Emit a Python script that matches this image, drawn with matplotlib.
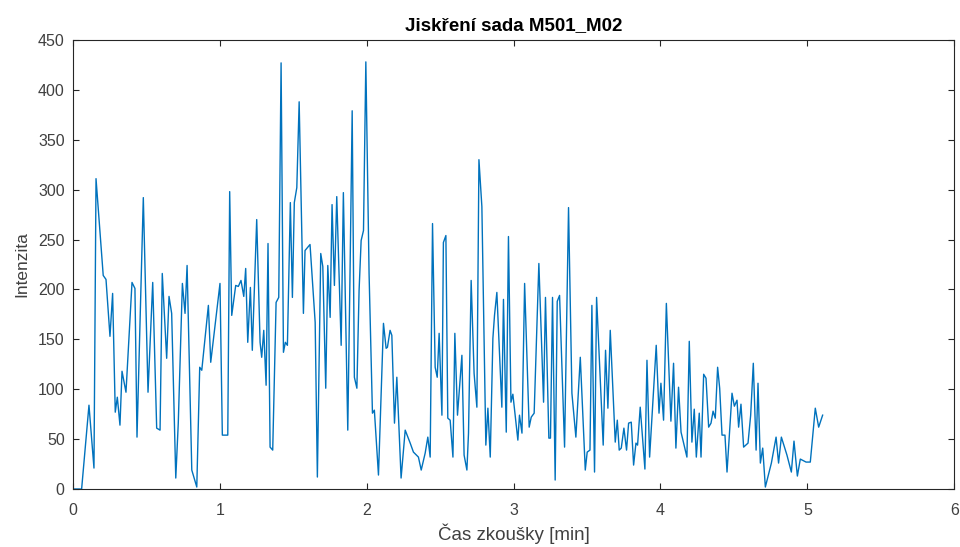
import matplotlib.pyplot as plt

# casy vrcholu krivky [min] a intenzita
cas = [0.0, 0.059, 0.109, 0.143, 0.157, 0.206, 0.225, 0.252, 0.270, 0.288,
       0.302, 0.320, 0.334, 0.361, 0.402, 0.422, 0.436, 0.479, 0.511, 0.543,
       0.570, 0.593, 0.608, 0.638, 0.654, 0.672, 0.700, 0.717, 0.745, 0.763,
       0.777, 0.809, 0.843, 0.863, 0.877, 0.922, 0.938, 1.001, 1.017, 1.054,
       1.067, 1.081, 1.108, 1.126, 1.144, 1.163, 1.176, 1.190, 1.208, 1.221,
       1.251, 1.274, 1.285, 1.299, 1.315, 1.328, 1.342, 1.360, 1.383, 1.401,
       1.417, 1.433, 1.446, 1.460, 1.480, 1.494, 1.507, 1.524, 1.540, 1.569,
       1.580, 1.614, 1.649, 1.664, 1.687, 1.701, 1.721, 1.735, 1.751, 1.764,
       1.780, 1.796, 1.826, 1.841, 1.871, 1.887, 1.901, 1.916, 1.933, 1.948,
       1.962, 1.978, 1.994, 2.016, 2.039, 2.052, 2.080, 2.114, 2.132, 2.141,
       2.159, 2.171, 2.189, 2.205, 2.234, 2.262, 2.296, 2.318, 2.352, 2.371,
       2.398, 2.416, 2.432, 2.448, 2.466, 2.480, 2.493, 2.512, 2.522, 2.539,
       2.552, 2.568, 2.587, 2.600, 2.618, 2.648, 2.663, 2.682, 2.693, 2.711,
       2.731, 2.750, 2.764, 2.784, 2.811, 2.825, 2.841, 2.859, 2.870, 2.886,
       2.920, 2.931, 2.950, 2.965, 2.982, 2.995, 3.029, 3.040, 3.057, 3.075,
       3.106, 3.120, 3.140, 3.172, 3.204, 3.217, 3.240, 3.251, 3.265, 3.283,
       3.297, 3.313, 3.347, 3.374, 3.397, 3.424, 3.454, 3.488, 3.501, 3.520,
       3.533, 3.551, 3.565, 3.610, 3.626, 3.642, 3.658, 3.692, 3.706, 3.719,
       3.733, 3.751, 3.769, 3.783, 3.801, 3.817, 3.833, 3.844, 3.862, 3.894,
       3.908, 3.926, 3.949, 3.971, 3.990, 4.003, 4.021, 4.040, 4.071, 4.089,
       4.105, 4.123, 4.140, 4.180, 4.196, 4.214, 4.230, 4.244, 4.264, 4.276,
       4.294, 4.310, 4.328, 4.344, 4.358, 4.373, 4.389, 4.403, 4.419, 4.439,
       4.453, 4.487, 4.503, 4.521, 4.532, 4.548, 4.566, 4.596, 4.614, 4.632,
       4.651, 4.664, 4.680, 4.696, 4.714, 4.755, 4.787, 4.804, 4.823, 4.861,
       4.891, 4.909, 4.932, 4.952, 4.991, 5.020, 5.054, 5.077, 5.104]

intenzita = [0, 0, 84, 21, 311, 214, 210, 153, 196, 77,
             92, 64, 118, 97, 207, 201, 52, 292, 97, 207,
             61, 59, 216, 131, 193, 176, 11, 66, 206, 176,
             224, 19, 2, 122, 119, 184, 127, 206, 54, 54,
             298, 174, 204, 203, 209, 193, 221, 147, 202, 139,
             270, 147, 132, 159, 104, 246, 42, 39, 187, 192,
             427, 137, 147, 144, 287, 192, 287, 302, 388, 176,
             239, 245, 167, 12, 236, 223, 101, 224, 172, 285,
             204, 293, 144, 297, 59, 223, 379, 112, 101, 199,
             249, 259, 428, 216, 76, 79, 14, 166, 141, 142,
             159, 154, 66, 112, 11, 59, 46, 37, 32, 19,
             36, 52, 32, 266, 122, 112, 156, 74, 247, 254,
             71, 69, 32, 156, 74, 134, 34, 19, 56, 209,
             116, 82, 330, 283, 44, 81, 32, 151, 174, 197,
             82, 190, 57, 253, 87, 95, 49, 74, 56, 206,
             62, 72, 76, 226, 87, 192, 51, 51, 192, 9,
             188, 194, 42, 282, 96, 52, 132, 19, 37, 39,
             184, 17, 192, 44, 139, 81, 159, 47, 69, 39,
             41, 61, 39, 66, 67, 24, 46, 44, 82, 20,
             129, 32, 89, 144, 76, 106, 69, 186, 68, 126,
             41, 102, 57, 32, 148, 47, 80, 32, 76, 32,
             115, 111, 62, 66, 78, 71, 122, 101, 54, 54,
             17, 96, 83, 89, 62, 85, 42, 46, 74, 126,
             39, 106, 26, 41, 2, 26, 52, 26, 52, 34,
             17, 48, 13, 30, 27, 27, 81, 62, 74]

x_ticks = [0, 1, 2, 3, 4, 5, 6]
y_ticks = [0, 50, 100, 150, 200, 250, 300, 350, 400, 450]

plt.rcParams['font.family'] = ['Liberation Sans', 'DejaVu Sans']
seda = '#262626'
text_seda = '#404040'

fig = plt.figure(figsize=(9.6, 5.47), dpi=100)
ax = fig.add_axes([0.076, 0.106, 0.918, 0.821])
ax.plot(cas, intenzita, color='#0072BD', linewidth=1.0)

ax.set_xlim(0, 6)
ax.set_ylim(0, 450)
ax.set_xticks(x_ticks)
ax.set_yticks(y_ticks)
ax.tick_params(direction='in', length=4, width=0.8, colors=seda,
               labelcolor=text_seda, labelsize=11.5, top=True, right=True)
ax.tick_params(axis='x', pad=10)
ax.tick_params(axis='y', pad=6)
for s in ax.spines.values():
    s.set_color(seda)
    s.set_linewidth(0.8)

ax.set_title('Jiskření sada M501_M02', fontsize=13.5, fontweight='bold',
             color='#000000', pad=7)
ax.set_xlabel('Čas zkoušky [min]', fontsize=13.5, color=text_seda, labelpad=4)
ax.set_ylabel('Intenzita', fontsize=12.5, color=text_seda, labelpad=6)

fig.savefig('out.png', dpi=100)
